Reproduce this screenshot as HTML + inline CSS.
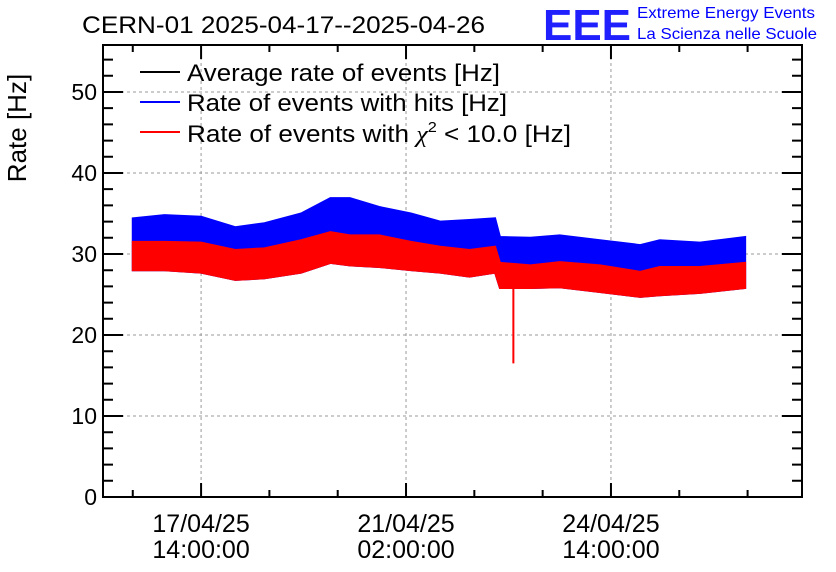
<!DOCTYPE html>
<html><head><meta charset="utf-8"><style>
body{margin:0;background:#fff}
svg{display:block;font-family:"Liberation Sans",sans-serif}
</style></head><body>
<svg id="c" width="836" height="572" viewBox="0 0 836 572">
<text x="82" y="33" font-size="24" textLength="403" lengthAdjust="spacingAndGlyphs">CERN-01 2025-04-17--2025-04-26</text>
<g>
<text x="543" y="40" font-size="44" fill="#2020ff" font-weight="bold" textLength="88" lengthAdjust="spacingAndGlyphs">EEE</text>
<text x="637" y="18" font-size="16" fill="#0000ff" textLength="178" lengthAdjust="spacingAndGlyphs">Extreme Energy Events</text>
<text x="637" y="39" font-size="16" fill="#0000ff" textLength="180" lengthAdjust="spacingAndGlyphs">La Scienza nelle Scuole</text>
</g>
<text transform="translate(26,128) rotate(-90)" text-anchor="middle" font-size="26">Rate [Hz]</text>
<g id="grid"></g><g id="series"></g><g id="axes"></g>
<g>
<g><line x1="140" y1="72" x2="180" y2="72" stroke="#000" stroke-width="2"/><text x="187" y="81" font-size="24" textLength="313" lengthAdjust="spacingAndGlyphs">Average rate of events [Hz]</text></g>
<g><line x1="140" y1="102" x2="180" y2="102" stroke="#00f" stroke-width="2"/><text x="187" y="111" font-size="24" textLength="320" lengthAdjust="spacingAndGlyphs">Rate of events with hits [Hz]</text></g>
<g><line x1="140" y1="132" x2="180" y2="132" stroke="#f00" stroke-width="2"/><text x="187" y="142" font-size="24" textLength="384" lengthAdjust="spacingAndGlyphs">Rate of events with <tspan font-family="Liberation Serif" font-style="italic">χ</tspan><tspan font-size="15" dy="-10">2</tspan><tspan dy="10"> &lt; 10.0 [Hz]</tspan></text></g>
</g>
</svg>
<script>
const hours=[-28,-15,0,14,26,41,53,61,73,86,98,110,120.5,122.5,135,147,163.5,180,188,204.5,223];
const blueHigh=[34.4,34.8,34.6,33.3,33.8,35.0,36.9,36.9,35.8,35.0,34.0,34.2,34.4,32.1,32.0,32.3,31.7,31.1,31.7,31.4,32.1];
const redHigh=[31.5,31.5,31.4,30.5,30.7,31.7,32.7,32.3,32.3,31.5,30.9,30.5,30.9,28.9,28.6,29.0,28.6,27.8,28.4,28.4,28.9];
const redLow=[28.0,28.0,27.7,26.8,27.0,27.7,28.9,28.6,28.4,28.0,27.7,27.2,27.7,25.8,25.8,25.9,25.3,24.7,24.9,25.2,25.8];
const spikeHour=[128];const spikeValue=[16.5];
const yTicks=[0,10,20,30,40,50];
const xTickHours=[0,84,168];
const xTickLabels=[["17/04/25","14:00:00"],["21/04/25","02:00:00"],["24/04/25","14:00:00"]];
const L=103,R=802,T=45,B=497,H0=-40.2,H1=246.3,Y1=55.8;
const X=h=>L+(h-H0)/(H1-H0)*(R-L);
const Y=v=>B-v/Y1*(B-T);
const NS="http://www.w3.org/2000/svg";
function mk(tag,attrs,parent){const e=document.createElementNS(NS,tag);for(const k in attrs)e.setAttribute(k,attrs[k]);parent.appendChild(e);return e;}
const grid=document.getElementById('grid'),series=document.getElementById('series'),axes=document.getElementById('axes');
yTicks.forEach(v=>{if(v>0){const g=mk('line',{x1:L,x2:R,y1:Y(v),y2:Y(v),stroke:'#999','stroke-dasharray':'3,3'},grid);

}
const t=mk('text',{x:L-6,y:Y(v)+8,'text-anchor':'end','font-size':23},axes);t.textContent=v;

});
xTickHours.forEach((h,i)=>{const g=mk('line',{x1:X(h),x2:X(h),y1:T,y2:B,stroke:'#999','stroke-dasharray':'3,3'},grid);


const t=mk('text',{x:X(h),y:532,'text-anchor':'middle','font-size':25},axes);


const a=mk('tspan',{x:X(h)},t);a.textContent=xTickLabels[i][0];
const b=mk('tspan',{x:X(h),dy:26},t);b.textContent=xTickLabels[i][1];});
function band(hi,lo,color,name){let d='M'+hours.map((h,i)=>X(h)+','+Y(hi[i])).join('L');
for(let i=hours.length-1;i>=0;i--)d+='L'+X(hours[i])+','+Y(lo[i]);
const p=mk('path',{d:d+'Z',fill:color,stroke:color,'stroke-width':2,'stroke-linejoin':'miter'},series);

}
band(blueHigh,redLow,'#0000ff','hits-rate-series');
band(redHigh,redLow,'#ff0000','chi2-rate-series');
spikeHour.forEach((h,i)=>{const s=mk('line',{x1:X(h),x2:X(h),y1:Y(redLow[0]-2),y2:Y(spikeValue[i]),stroke:'#f00','stroke-width':2},series);

});
const fr=mk('rect',{x:L,y:T,width:R-L,height:B-T,fill:'none',stroke:'#000','stroke-width':2},axes);


let tk='';
for(let v=0;v<=Y1;v+=2){const len=v%10===0?20:10;tk+=`M${L},${Y(v)}h${len}M${R},${Y(v)}h${-len}`;}
for(let h=-28;h<=H1;h+=28){const len=(h%84===0)?14:7;tk+=`M${X(h)},${B}v${-len}M${X(h)},${T}v${len}`;}
const tp=mk('path',{d:tk,stroke:'#000','stroke-width':2,fill:'none'},axes);


</script>
</body></html>
